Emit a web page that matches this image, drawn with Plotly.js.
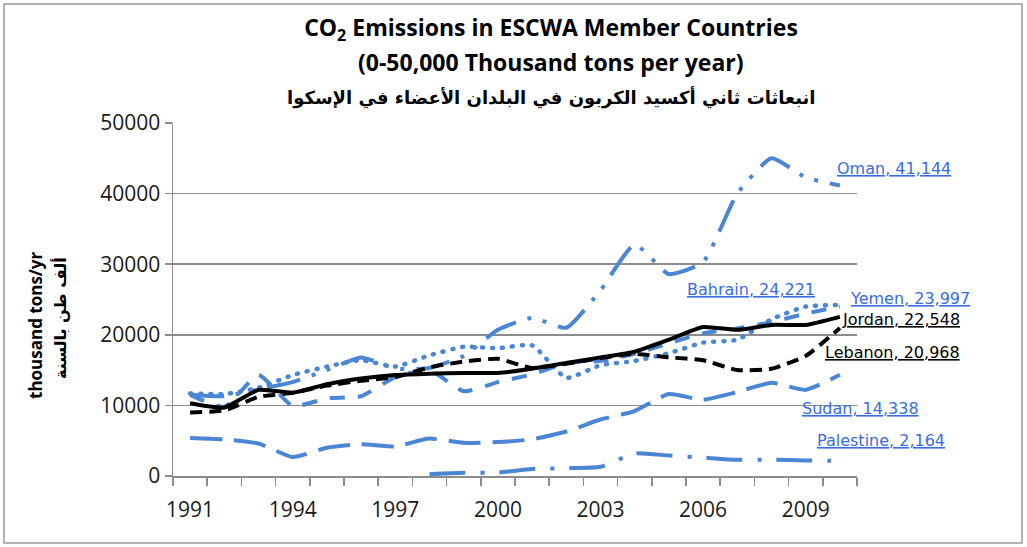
<!DOCTYPE html>
<html>
<head>
<meta charset="utf-8">
<script src="https://cdn.plot.ly/plotly-3.0.1.min.js"></script>
<style>
html,body{margin:0;padding:0;background:#fff;}
#chart{width:1027px;height:547px;}
</style>
</head>
<body>
<div id="chart"></div>
<script>
// ---- data (thousand tons of CO2 per year) ----
const years = [1991,1992,1993,1994,1995,1996,1997,1998,1999,2000,2001,2002,2003,2004,2005,2006,2007,2008,2009,2010];
const tickYears = [1991,1994,1997,2000,2003,2006,2009];
const jordan    = [10300, 9700,12200,11800,13000,13800,14300,14500,14600,14600,15200,16000,16800,17600,19300,21100,20700,21400,21400,22548];
const lebanon   = [ 9000, 9300,11200,11800,12800,13500,14000,15400,16200,16600,15300,15900,16700,17300,16800,16400,15000,15200,17000,20968];
const oman      = [11500,11300,12300,13300,15000,16800,15200,15300,17000,20700,22400,21000,26300,32800,28600,30300,40000,45000,42300,41144];
const bahrain   = [11700,11600,12500,14300,15500,16400,15500,17100,18300,18100,18500,13900,15700,16300,17400,18900,19300,22200,24000,24221];
const yemen     = [11500, 9800,14300, 9900,11000,11300,14000,15000,12000,13300,14400,16000,16300,17300,18800,20200,20900,21800,23000,23997];
const sudan     = [ 5400, 5200, 4600, 2700, 4000, 4500, 4200, 5300, 4700, 4800, 5200, 6300, 8000, 9200,11600,10800,11900,13200,12200,14338];
const palestine = [null,null,null,null,null,null,null,  250,  450,  500, 1000, 1100, 1300, 3200, 2900, 2600, 2300, 2300, 2200, 2164];

const titleLine1 = 'CO<sub>2</sub> Emissions in ESCWA Member Countries';
const titleLine2 = '(0-50,000 Thousand tons per year)';
const titleLine3 = 'انبعاثات ثاني أكسيد الكربون في البلدان الأعضاء في الإسكوا';
const yTitleEn = 'thousand tons/yr';
const yTitleAr = 'ألف طن بالسنة';

// ---- styles ----
const BLUE = '#4A86D3';
const LBLUE = '#3A6CE0';
const W = 4;

function tr(name, y, color, dash, width){
  return {x: years, y: y, name: name, type:'scatter', mode:'lines',
    line:{color:color, width:width||W, dash:dash, shape:'spline', smoothing:0.5},
    connectgaps:false, hoverinfo:'skip', showlegend:false};
}

const traces = [
  tr('Palestine', palestine, BLUE, '36px,15px,4px,15px'),
  tr('Sudan', sudan, BLUE, '32px,12px'),
  tr('Yemen', yemen, BLUE, '15px,13px'),
  tr('Bahrain', bahrain, BLUE, '1px,9px', 4.5),
  tr('Oman', oman, BLUE, '34px,12px,4px,12px,4px,12px'),
  tr('Lebanon', lebanon, '#000', '12px,7px'),
  tr('Jordan', jordan, '#000', 'solid')
];

function last(arr){ return arr[arr.length-1]; }
function fmt(v){ return v.toLocaleString('en-US'); }

function lbl(name, arr, x, y, color, dotted){
  const deco = dotted ? 'text-decoration:underline dotted;' : 'text-decoration:underline;';
  return {xref:'x', yref:'y', x:x, y:y, xanchor:'left', yanchor:'middle', showarrow:false,
    text:'<span style="'+deco+'">'+name+', '+fmt(last(arr))+'</span>',
    font:{family:'DejaVu Sans', size:16, color:color}};
}

const annotations = [
  {xref:'paper', yref:'paper', x:0.5526, y:(476-62)/353, xanchor:'center', yanchor:'middle', showarrow:false,
   text:titleLine2, font:{family:'Open Sans', size:23, color:'#000', weight:'bold'}},
  {xref:'paper', yref:'paper', x:0.5526, y:(476-97)/353, xanchor:'center', yanchor:'middle', showarrow:false,
   text:titleLine3, font:{family:'DejaVu Sans', size:18, color:'#000', weight:'bold'}},
  {xref:'paper', yref:'paper', x:(35-173)/684, y:(476-325)/353, xanchor:'center', yanchor:'middle', showarrow:false,
   textangle:-90, text:yTitleEn, font:{family:'Open Sans', size:17, color:'#000', weight:'bold'}},
  {xref:'paper', yref:'paper', x:(60-173)/684, y:(476-318)/353, xanchor:'center', yanchor:'middle', showarrow:false,
   textangle:-90, text:yTitleAr, font:{family:'DejaVu Sans', size:16, color:'#000', weight:'bold'}},
  lbl('Oman', oman, 2009.86, 43600, LBLUE, true),
  lbl('Bahrain', bahrain, 2005.47, 26480, LBLUE, true),
  lbl('Yemen', yemen, 2010.24, 25200, LBLUE, true),
  lbl('Jordan', jordan, 2010.0, 22100, '#000', false),
  lbl('Lebanon', lebanon, 2009.5, 17560, '#000', false),
  lbl('Sudan', sudan, 2008.83, 9630, LBLUE, true),
  lbl('Palestine', palestine, 2009.27, 4960, LBLUE, true)
];

const layout = {
  width:1027, height:547,
  margin:{l:173, r:170, t:123, b:71, pad:0},
  paper_bgcolor:'#fff', plot_bgcolor:'#fff',
  showlegend:false,
  title:{text:titleLine1, x:551/1027, xref:'container', xanchor:'center', y:1-28/547, yref:'container', yanchor:'middle',
         font:{family:'Open Sans', size:23, color:'#000', weight:'bold'}},
  xaxis:{range:[1990.5,2010.5], tickvals:tickYears, ticktext:tickYears.map(String),
         ticks:'', showgrid:false, zeroline:false, showline:true, linecolor:'#8c8c8c', linewidth:1.5,
         ticklabelstandoff:14,
         tickfont:{family:'Open Sans', size:21, color:'#1a1a1a'},
         minor:{tick0:1990.5, dtick:1, ticks:'outside', ticklen:8, tickcolor:'#8c8c8c', tickwidth:1.5, showgrid:false}},
  yaxis:{range:[0,50000], dtick:10000, tickformat:'d', showgrid:true, gridcolor:'#8c8c8c', gridwidth:1.5,
         zeroline:false, showline:true, linecolor:'#8c8c8c', linewidth:1.5,
         ticks:'outside', ticklen:7, tickcolor:'#8c8c8c', tickwidth:1.5,
         tickfont:{family:'Open Sans', size:21, color:'#1a1a1a'}},
  annotations:annotations,
  shapes:[{type:'rect', xref:'paper', yref:'paper',
           x0:(4-173)/684, x1:(1022-173)/684, y0:(476-543)/353, y1:(476-4)/353,
           line:{color:'#9a9a9a', width:1.5}, fillcolor:'rgba(0,0,0,0)'}]
};

Plotly.newPlot('chart', traces, layout, {staticPlot:true, displayModeBar:false}).then(function(gd){
  // round dots for the dotted series, as in the original
  const groups = gd.querySelectorAll('.scatterlayer .trace');
  groups.forEach(function(t, i){
    if (traces[i] && traces[i].name === 'Bahrain') {
      t.querySelectorAll('path.js-line').forEach(function(p){ p.style.strokeLinecap = 'round'; });
    }
  });
});
</script>
</body>
</html>
